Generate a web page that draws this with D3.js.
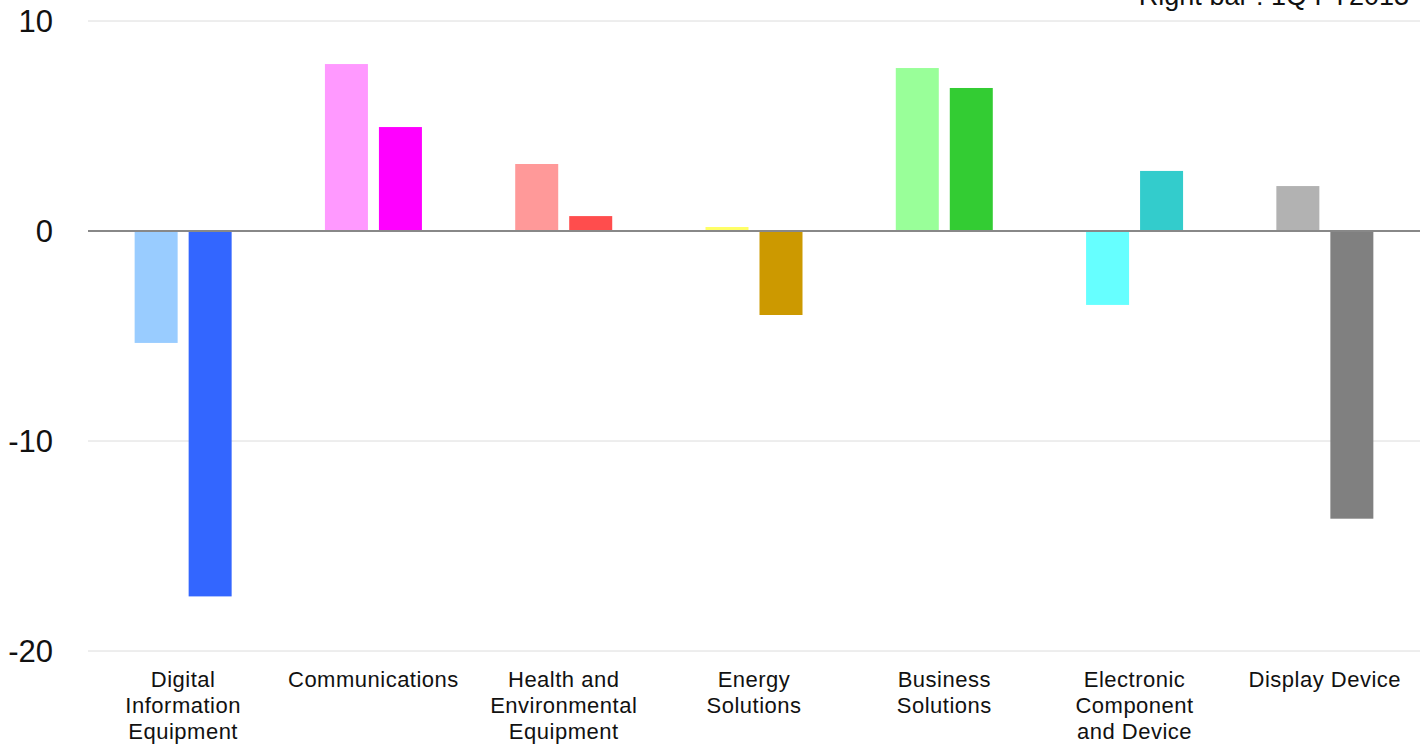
<!DOCTYPE html>
<html>
<head>
<meta charset="utf-8">
<script src="https://cdn.jsdelivr.net/npm/d3@7"></script>
<style>
  body { margin: 0; background: #fff; }
  text { font-family: "Liberation Sans", Arial, sans-serif; fill: #111; }
</style>
</head>
<body>
<div id="viz"></div>
<script>
// data
let categories = ["Digital Information Equipment", "Communications", "Health and Environmental Equipment",
  "Energy Solutions", "Business Solutions", "Electronic Component and Device", "Display Device"];
let labelLines = [["Digital", "Information", "Equipment"], ["Communications"], ["Health and", "Environmental", "Equipment"],
  ["Energy", "Solutions"], ["Business", "Solutions"], ["Electronic", "Component", "and Device"], ["Display Device"]];
let leftValues = [-5.33, 7.95, 3.19, 0.19, 7.76, -3.52, 2.14];
let rightValues = [-17.4, 4.95, 0.71, -4.0, 6.81, 2.86, -13.7];
let leftColors = ["#99ccff", "#ff99ff", "#ff9999", "#ffff66", "#99ff99", "#66ffff", "#b2b2b2"];
let rightColors = ["#3366ff", "#ff00ff", "#ff4d4d", "#cc9900", "#33cc33", "#33cccc", "#808080"];
let yTicks = [10, 0, -10, -20];
let note = "Right bar : 1Q FY2013";

let w = 1428;
let h = 749;
let plotLeft = 88, plotRight = 1420, plotTop = 21, plotBottom = 651;

let viz = d3.select("#viz").append("svg")
  .attr("width", w)
  .attr("height", h);

let x = d3.scaleBand().domain(categories).range([plotLeft, plotRight]);
let y = d3.scaleLinear().domain([-20, 10]).range([plotBottom, plotTop]);

let barW = 43, gap = 11;

// grid lines
viz.selectAll(".grid").data(yTicks.filter(d => d != 0)).enter()
  .append("line")
    .attr("x1", plotLeft).attr("x2", plotRight)
    .attr("y1", d => y(d)).attr("y2", d => y(d))
    .attr("stroke", "#dcdcdc")
    .attr("stroke-width", 1);

// tick labels
viz.selectAll(".ytick").data(yTicks).enter()
  .append("text")
    .attr("x", 53)
    .attr("y", d => y(d) + 11)
    .attr("text-anchor", "end")
    .style("font-size", "31px")
    .text(d => d);

// bars
let data = categories.map((c, i) => ({c: c, i: i}));
viz.selectAll(".lbar").data(data).enter()
  .append("rect")
    .attr("x", d => x(d.c) + x.bandwidth() / 2 - gap / 2 - barW)
    .attr("width", barW)
    .attr("y", d => y(Math.max(0, leftValues[d.i])))
    .attr("height", d => Math.abs(y(leftValues[d.i]) - y(0)))
    .attr("fill", d => leftColors[d.i]);

viz.selectAll(".rbar").data(data).enter()
  .append("rect")
    .attr("x", d => x(d.c) + x.bandwidth() / 2 + gap / 2)
    .attr("width", barW)
    .attr("y", d => y(Math.max(0, rightValues[d.i])))
    .attr("height", d => Math.abs(y(rightValues[d.i]) - y(0)))
    .attr("fill", d => rightColors[d.i]);

// zero line
viz.append("line")
  .attr("x1", plotLeft).attr("x2", plotRight)
  .attr("y1", y(0)).attr("y2", y(0))
  .attr("stroke", "#888")
  .attr("stroke-width", 2);

// category labels
let labels = viz.selectAll(".cat").data(data).enter()
  .append("text")
    .attr("text-anchor", "middle")
    .style("font-size", "22px")
    .style("letter-spacing", "0.5px");
labels.selectAll("tspan").data(d => labelLines[d.i].map(t => ({t: t, cx: x(d.c) + x.bandwidth() / 2}))).enter()
  .append("tspan")
    .attr("x", d => d.cx)
    .attr("y", (d, j) => 687 + j * 26)
    .text(d => d.t);

// note in the corner
viz.append("text")
  .attr("x", 1409)
  .attr("y", 5)
  .attr("text-anchor", "end")
  .style("font-size", "27px")
  .text(note);
</script>
</body>
</html>
